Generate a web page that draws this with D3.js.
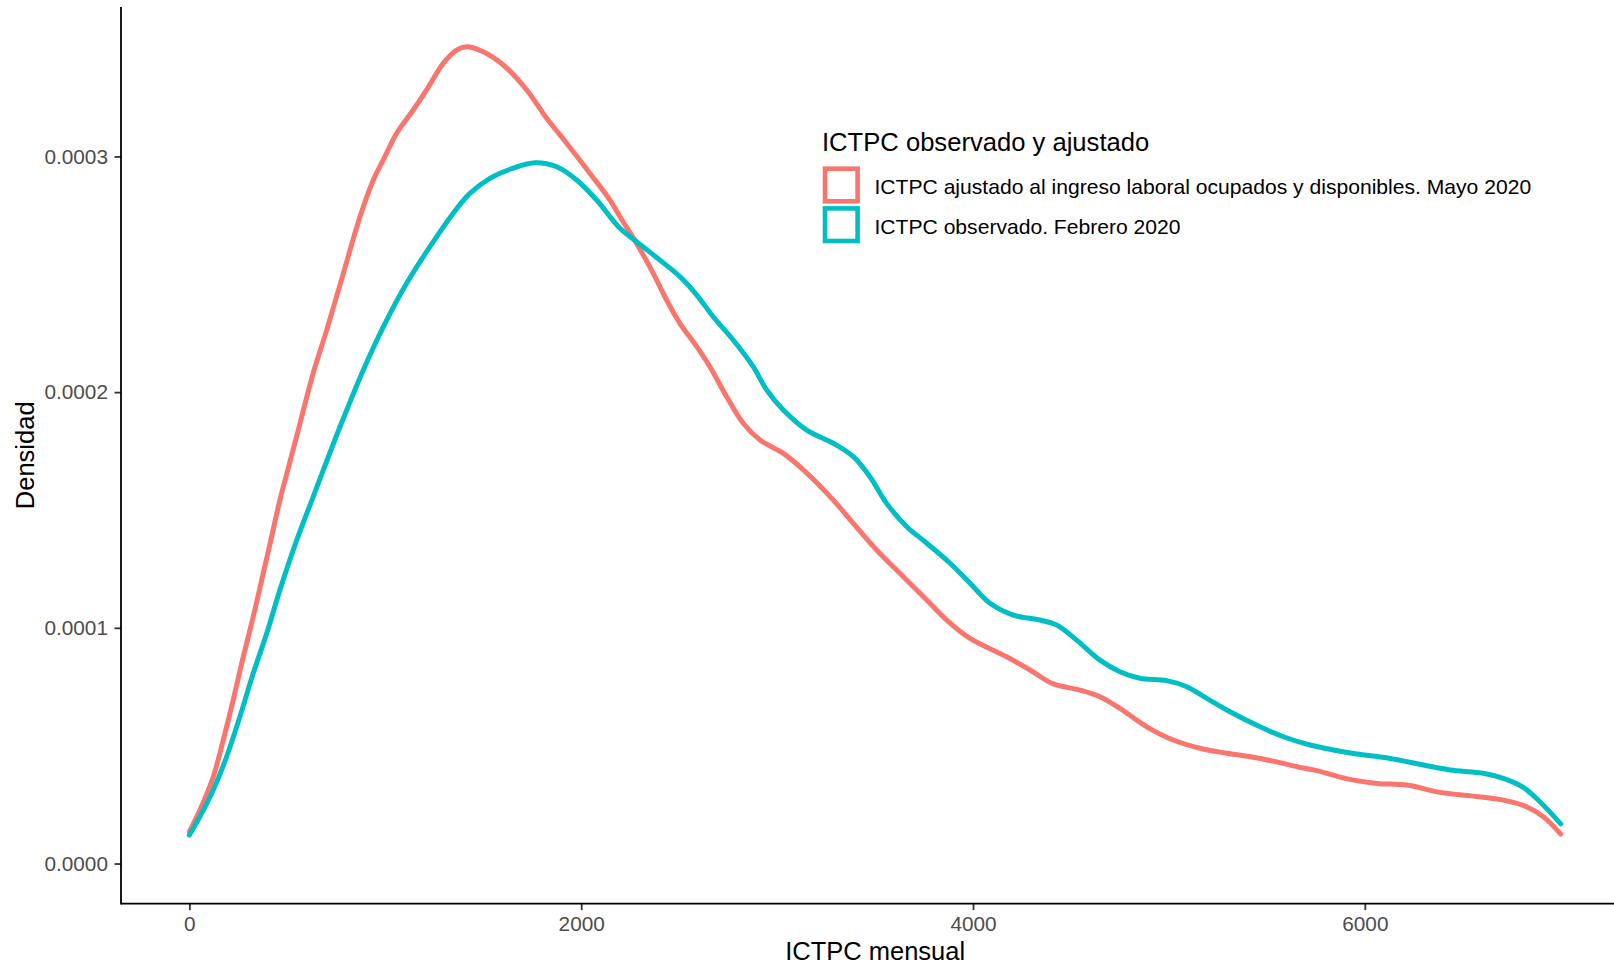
<!DOCTYPE html>
<html>
<head>
<meta charset="utf-8">
<script src="https://cdn.jsdelivr.net/npm/d3@7"></script>
<style>
  html, body { margin: 0; padding: 0; background: #fff; }
  svg { display: block; font-family: "Liberation Sans", Arial, sans-serif; }
</style>
</head>
<body>
<svg id="chart" width="1614" height="964"></svg>
<script>
// ---- data ----
const seriesNames = [
  "ICTPC ajustado al ingreso laboral ocupados y disponibles. Mayo 2020",
  "ICTPC observado. Febrero 2020"
];
const legendTitle = "ICTPC observado y ajustado";
const xTicks = [0, 2000, 4000, 6000];
const yTicks = [0, 0.0001, 0.0002, 0.0003];

const ajustadoX = [0,54,122,173,224,275,326,377,420,462,505,556,632,701,786,871,939,990,1058,1143,1211,1296,1364,1415,1500,1602,1722,1824,1926,2045,2147,2198,2283,2368,2436,2504,2590,2657,2743,2827,2913,3032,3134,3287,3389,3508,3644,3764,3866,3985,4172,4291,4410,4546,4648,4750,4887,5022,5159,5295,5431,5567,5669,5754,5924,6061,6214,6384,6554,6724,6826,6911,7000];
const ajustadoY = [0.0000135,0.0000227,0.0000368,0.0000524,0.0000694,0.0000877,0.0001047,0.0001231,0.0001387,0.0001542,0.0001678,0.0001839,0.0002080,0.0002263,0.0002504,0.0002744,0.0002900,0.0002985,0.0003098,0.0003197,0.0003282,0.0003395,0.0003451,0.0003465,0.0003444,0.0003388,0.0003282,0.0003162,0.0003056,0.0002928,0.0002815,0.0002744,0.0002631,0.0002504,0.0002391,0.0002292,0.0002193,0.0002108,0.0001980,0.0001868,0.0001797,0.0001740,0.0001670,0.0001542,0.0001443,0.0001330,0.0001217,0.0001118,0.0001033,0.0000955,0.0000877,0.0000821,0.0000762,0.0000736,0.0000708,0.0000658,0.0000580,0.0000524,0.0000489,0.0000468,0.0000451,0.0000428,0.0000408,0.0000394,0.0000357,0.0000340,0.0000333,0.0000302,0.0000286,0.0000266,0.0000241,0.0000199,0.0000125];

const observadoX = [0,54,122,190,258,326,395,462,548,632,684,769,888,990,1109,1228,1347,1432,1534,1653,1764,1875,1977,2079,2198,2283,2402,2504,2590,2674,2776,2878,2947,3032,3151,3287,3389,3474,3559,3662,3764,3883,3985,4087,4206,4342,4427,4529,4648,4750,4852,4989,5091,5193,5312,5465,5584,5720,5839,5959,6129,6299,6435,6605,6707,6809,6894,7000];
const observadoY = [0.0000121,0.0000199,0.0000312,0.0000453,0.0000623,0.0000807,0.0000977,0.0001160,0.0001372,0.0001556,0.0001670,0.0001853,0.0002094,0.0002277,0.0002462,0.0002617,0.0002759,0.0002843,0.0002907,0.0002950,0.0002973,0.0002956,0.0002900,0.0002815,0.0002695,0.0002638,0.0002560,0.0002490,0.0002412,0.0002320,0.0002221,0.0002108,0.0002009,0.0001924,0.0001839,0.0001783,0.0001726,0.0001641,0.0001528,0.0001429,0.0001359,0.0001274,0.0001189,0.0001104,0.0001054,0.0001033,0.0001012,0.0000948,0.0000863,0.0000814,0.0000786,0.0000776,0.0000750,0.0000701,0.0000644,0.0000580,0.0000538,0.0000503,0.0000482,0.0000465,0.0000446,0.0000418,0.0000397,0.0000383,0.0000361,0.0000323,0.0000262,0.0000168];

const colors = ["#F8766D", "#00BFC4"];

// ---- layout ----
const svg = d3.select("#chart");
const panel = { left: 121, right: 1629.3, top: 7, bottom: 903.6 };

const x = d3.scaleLinear().domain([-350, 7350]).range([120.8, 1629.3]);
const y = d3.scaleLinear().domain([-0.0000170, 0.0003634]).range([903.6, 7]);

const series = [
  { name: seriesNames[0], data: ajustadoX.map((v, i) => [v, ajustadoY[i]]), color: colors[0] },
  { name: seriesNames[1], data: observadoX.map((v, i) => [v, observadoY[i]]), color: colors[1] }
];

const line = d3.line()
  .x(d => x(d[0]))
  .y(d => y(d[1]))
  .curve(d3.curveCatmullRom.alpha(0.5));

svg.append("g").selectAll("path")
  .data(series)
  .join("path")
  .attr("d", d => line(d.data))
  .attr("fill", "none")
  .attr("stroke", d => d.color)
  .attr("stroke-width", 5)
  .attr("stroke-linejoin", "round")
  .attr("stroke-linecap", "round");

// axes
const tickFont = 20.8;
const xAxis = d3.axisBottom(x).tickValues(xTicks).tickFormat(d3.format("d"))
  .tickSize(6.5).tickSizeOuter(0).tickPadding(6.6);
const gx = svg.append("g").attr("transform", `translate(0,${panel.bottom})`).call(xAxis);
gx.select(".domain").remove();
gx.append("line").attr("x1", panel.left).attr("x2", panel.right).attr("y1", 0).attr("y2", 0)
  .attr("stroke", "#000").attr("stroke-width", 1.8);
gx.selectAll(".tick line").attr("stroke", "#333333").attr("stroke-width", 1.8);
gx.selectAll(".tick text").attr("fill", "#4D4D4D").style("font-size", tickFont + "px")
  .style("font-family", '"Liberation Sans", Arial, sans-serif');

const yAxis = d3.axisLeft(y).tickValues(yTicks).tickFormat(d3.format(".4f"))
  .tickSize(6.5).tickSizeOuter(0).tickPadding(6.5);
const gy = svg.append("g").attr("transform", `translate(${panel.left},0)`).call(yAxis);
gy.select(".domain").remove();
gy.append("line").attr("x1", 0).attr("x2", 0).attr("y1", panel.top).attr("y2", panel.bottom + 0.9)
  .attr("stroke", "#000").attr("stroke-width", 1.8);
gy.selectAll(".tick line").attr("stroke", "#333333").attr("stroke-width", 1.8);
gy.selectAll(".tick text").attr("fill", "#4D4D4D").style("font-size", tickFont + "px")
  .style("font-family", '"Liberation Sans", Arial, sans-serif');

// axis titles
const titleFont = 25.5;
svg.append("text")
  .attr("x", (panel.left + panel.right) / 2)
  .attr("y", 960)
  .attr("text-anchor", "middle")
  .style("font-size", titleFont + "px")
  .attr("fill", "#000")
  .text("ICTPC mensual");

svg.append("text")
  .attr("transform", `translate(34,${(panel.top + panel.bottom) / 2}) rotate(-90)`)
  .attr("text-anchor", "middle")
  .style("font-size", titleFont + "px")
  .attr("fill", "#000")
  .text("Densidad");

// legend
const lg = svg.append("g");
lg.append("text")
  .attr("x", 822)
  .attr("y", 150.7)
  .style("font-size", "25.6px")
  .attr("fill", "#000")
  .text(legendTitle);

const rowCenters = [185, 224.7];
series.forEach((s, i) => {
  lg.append("rect")
    .attr("x", 825)
    .attr("y", rowCenters[i] - 16.3)
    .attr("width", 32.6)
    .attr("height", 32.6)
    .attr("fill", "#fff")
    .attr("stroke", s.color)
    .attr("stroke-width", 4.6);
  lg.append("text")
    .attr("x", 874.5)
    .attr("y", rowCenters[i] + 8.8)
    .style("font-size", "21.1px")
    .attr("fill", "#000")
    .text(s.name);
});
</script>
</body>
</html>
